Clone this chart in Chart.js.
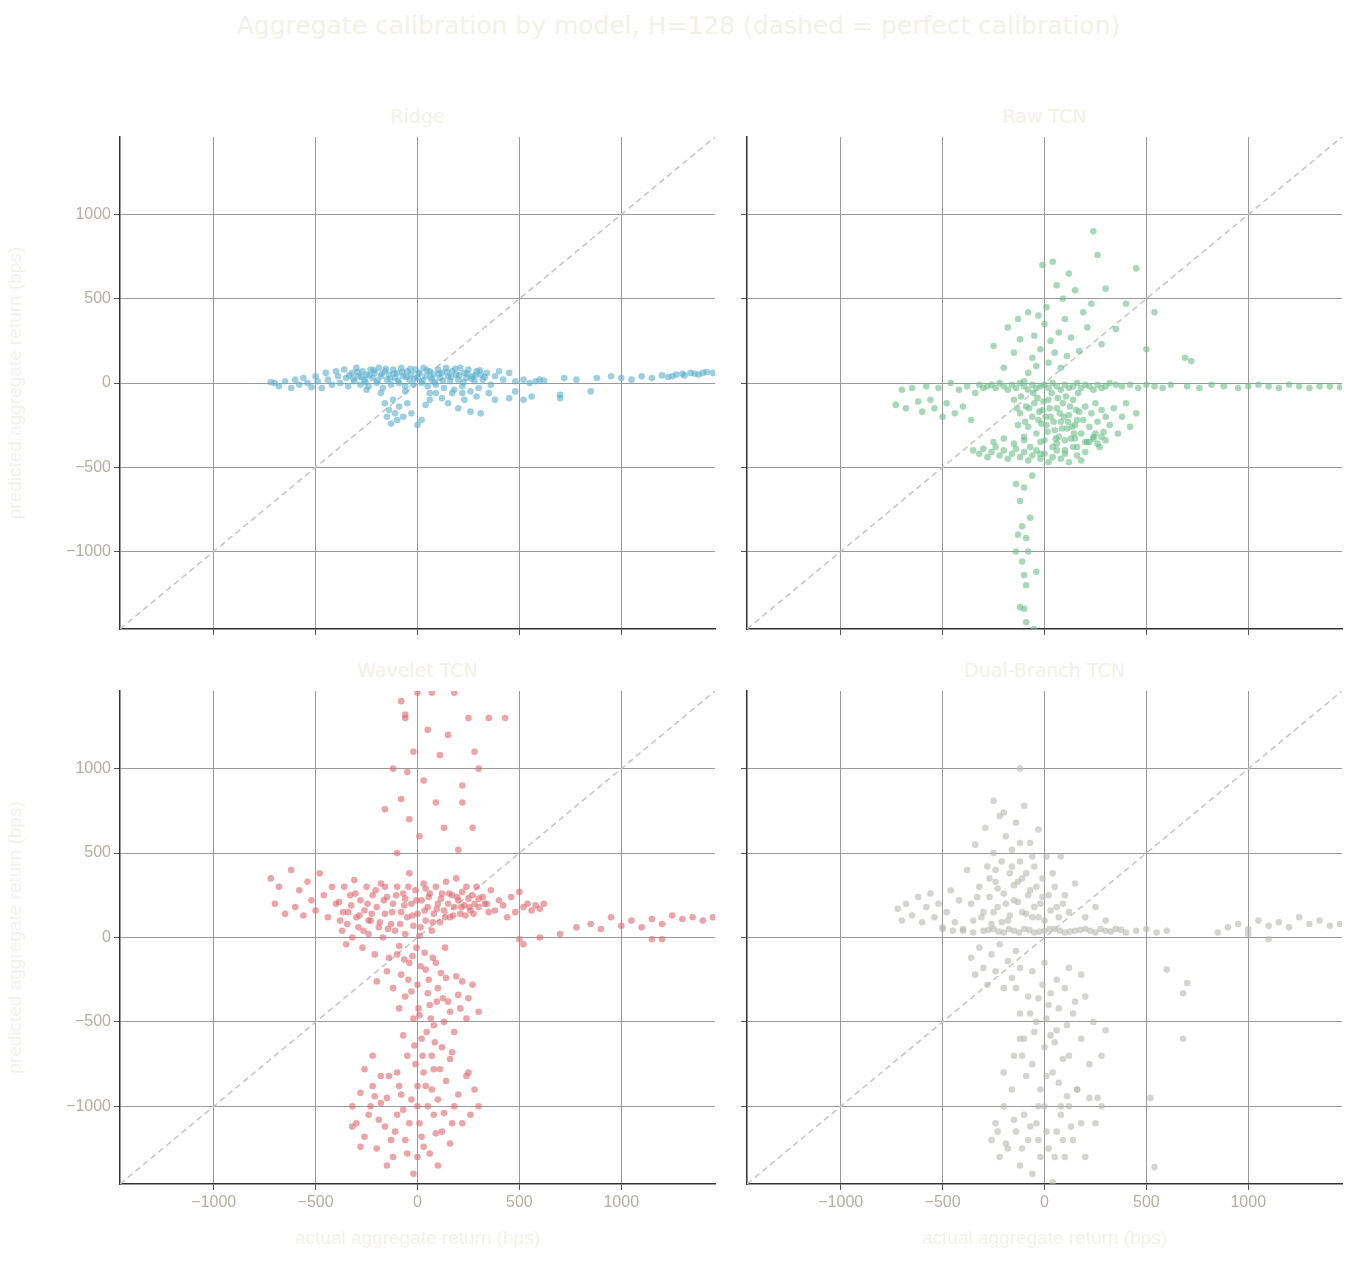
<!DOCTYPE html>
<html>
<head>
<meta charset="utf-8">
<script src="https://cdn.jsdelivr.net/npm/chart.js@4.4.1/dist/chart.umd.min.js"></script>
<style>
body { margin:0; background:#fff; font-family:"DejaVu Sans", sans-serif; }
#wrap { position:relative; width:1357px; height:1262px; }
.box { position:absolute; }
.txt { position:absolute; color:#f2f1ea; text-align:center; white-space:nowrap; }
</style>
</head>
<body>
<div id="wrap">
  <div class="txt" style="left:0;width:1357px;top:11px;font-size:25px">Aggregate calibration by model, H=128 (dashed = perfect calibration)</div>
  <div class="txt" style="left:120px;width:595px;top:105px;font-size:19px">Ridge</div>
  <div class="txt" style="left:747px;width:595px;top:105px;font-size:19px">Raw TCN</div>
  <div class="txt" style="left:120px;width:595px;top:659px;font-size:19px">Wavelet TCN</div>
  <div class="txt" style="left:747px;width:595px;top:659px;font-size:19px">Dual-Branch TCN</div>
  <div class="box" style="left:0;top:120px;width:730px;height:549px"><canvas id="c0"></canvas></div>
  <div class="box" style="left:730px;top:120px;width:627px;height:549px"><canvas id="c1"></canvas></div>
  <div class="box" style="left:0;top:674px;width:730px;height:580px"><canvas id="c2"></canvas></div>
  <div class="box" style="left:730px;top:674px;width:627px;height:580px"><canvas id="c3"></canvas></div>
</div>
<script>
// axis limits and ticks
let axisMin = -1460;
let axisMax = 1460;
let tickValues = [-1000, -500, 0, 500, 1000];
let panelTitles = ['Ridge', 'Raw TCN', 'Wavelet TCN', 'Dual-Branch TCN'];

// points: [actual, predicted]
let ridgePoints = [[-720,5],[-700,0],[-680,-20],[-650,10],[-620,-30],[-600,20],[-580,-10],[-560,30],[-540,0],[-520,-25],[-500,40],[-490,10],[-470,-30],[-450,60],[-440,20],[-420,-10],[-400,70],[-390,40],[-380,0],[-360,80],[-350,30],[-340,-20],[-320,60],[-310,10],[-300,90],[-290,40],[-280,-10],[-270,70],[-260,20],[-250,50],[-240,-20],[-230,80],[-220,30],[-210,60],[-200,0],[-190,90],[-180,40],[-170,-30],[-160,70],[-150,20],[-140,50],[-130,-10],[-120,80],[-110,30],[-100,60],[-90,0],[-80,90],[-70,40],[-60,-20],[-50,70],[-40,20],[-30,50],[-20,-10],[-10,80],[0,30],[10,60],[20,0],[30,90],[40,40],[50,-20],[60,70],[70,20],[80,50],[90,-10],[100,80],[110,30],[120,60],[130,-30],[140,90],[150,40],[160,10],[170,70],[180,-40],[190,50],[200,20],[210,90],[220,-20],[230,60],[240,30],[250,80],[260,-50],[270,40],[280,10],[290,70],[300,-30],[310,50],[320,20],[340,60],[360,-10],[380,40],[400,70],[420,20],[450,60],[480,10],[520,20],[550,0],[580,10],[600,20],[620,15],[700,-70],[720,30],[780,20],[850,-50],[880,30],[950,40],[1000,30],[1050,20],[1100,40],[1150,30],[1200,45],[1250,40],[1300,55],[1340,60],[1380,50],[1420,65],[1450,60],[-160,-120],[-150,-200],[-140,-160],[-130,-240],[-120,-100],[-110,-180],[-100,-220],[-90,-140],[-70,-200],[-50,-120],[-30,-180],[0,-250],[20,-220],[40,-130],[60,-100],[90,-60],[120,-90],[150,-120],[170,-60],[200,-150],[230,-100],[260,-170],[290,-80],[310,-180],[350,-60],[380,-100],[450,-90],[480,-50],[520,-100],[560,-80],[700,-90],[-250,-40],[-180,-60],[-60,-50],[60,-60],[220,-60],
[-335,45],[-315,25],[-295,65],[-275,35],[-255,5],[-235,45],[-215,75],[-195,15],[-175,55],[-155,85],[-135,25],[-115,55],[-95,15],[-75,65],[-55,35],[-35,85],[-15,25],[5,55],[25,15],[45,75],[65,35],[85,5],[105,55],[125,15],[145,65],[165,35],[185,85],[205,45],[225,5],[245,55],[265,25],[285,45],[305,75],[330,35],[1310,45],[1360,55],[1400,60],[1230,35],[1270,50]];

let rawPoints = [[-730,-130],[-700,-40],[-680,-150],[-650,-30],[-620,-110],[-600,-170],[-580,-20],[-560,-100],[-540,-150],[-520,-30],[-500,-200],[-480,-120],[-460,0],[-440,-180],[-420,-40],[-400,-140],[-380,-20],[-360,-220],[-340,-60],[-320,-10],[-300,-30],[-280,-20],[-260,-10],[-240,-30],[-220,0],[-200,-20],[-180,-40],[-160,-10],[-140,-30],[-120,0],[-100,-20],[-80,-40],[-60,-10],[-40,-30],[-20,-20],[0,-10],[20,-30],[40,0],[60,-20],[80,-40],[100,-10],[120,-30],[140,-20],[160,0],[180,-30],[200,-10],[220,-20],[240,-40],[260,-10],[280,-30],[300,-20],[320,0],[350,-10],[380,-20],[420,-10],[460,-30],[500,-10],[540,-20],[580,-30],[620,-10],[700,-20],[760,-30],[820,-10],[880,-20],[950,-30],[1000,-20],[1050,-10],[1100,-20],[1150,-30],[1200,-10],[1250,-20],[1300,-30],[1350,-20],[1400,-20],[1450,-25],
[-150,-100],[-130,-250],[-120,-180],[-100,-320],[-90,-140],[-80,-260],[-70,-380],[-60,-200],[-50,-120],[-40,-300],[-30,-220],[-20,-420],[-10,-160],[0,-340],[10,-250],[20,-100],[30,-200],[40,-380],[50,-280],[60,-150],[70,-320],[80,-230],[90,-120],[100,-400],[110,-270],[120,-190],[130,-330],[140,-100],[150,-250],[160,-380],[170,-170],[180,-300],[190,-220],[200,-140],[210,-350],[220,-260],[230,-180],[240,-320],[250,-120],[260,-230],[270,-380],[280,-160],[290,-290],[300,-200],[320,-250],[340,-150],[360,-300],[380,-200],[400,-120],[420,-260],[450,-180],
[-350,-400],[-320,-420],[-300,-390],[-280,-440],[-260,-410],[-240,-380],[-220,-430],[-200,-400],[-180,-450],[-160,-420],[-140,-390],[-120,-440],[-100,-410],[-80,-460],[-60,-430],[-40,-400],[-20,-450],[0,-420],[20,-470],[40,-440],[60,-400],[80,-450],[100,-420],[120,-470],[140,-380],[160,-430],[180,-460],[200,-410],[220,-350],[240,-330],[260,-360],[280,-320],[300,-340],
[-250,-350],[-200,-330],[-150,-360],[-100,-340],[150,-330],[200,-350],[250,-300],
[-35,-90],[-25,-170],[-15,-240],[-5,-110],[5,-200],[15,-290],[25,-150],[35,-60],[45,-230],[55,-330],[65,-90],[75,-180],[85,-270],[95,-200],[105,-80],[115,-230],[125,-140],[135,-260],[145,-300],[155,-160],[165,-60],[-55,-60],[-75,-150],[-95,-230],[-115,-80],[-135,-150],[-20,-350],[60,-360],[100,-340],[160,-220],
[-100,10],[-80,60],[-60,150],[-50,280],[-40,100],[-30,400],[-20,200],[-10,700],[0,350],[10,450],[20,120],[30,250],[40,720],[50,180],[60,580],[70,300],[80,90],[90,500],[100,380],[110,160],[120,650],[130,270],[150,550],[170,190],[190,420],[210,330],[230,470],[240,900],[260,760],[280,230],[300,560],[350,320],[400,470],[450,680],[500,200],[540,420],[-150,180],[-200,90],[-250,220],[-180,330],[-120,260],[-80,420],[-130,380],
[-140,-600],[-120,-700],[-110,-850],[-100,-620],[-90,-920],[-80,-1000],[-110,-1060],[-130,-900],[-140,-1000],[-100,-1140],[-90,-1200],[-120,-1330],[-100,-1340],[-90,-1420],[-70,-800],[-50,-1460],[-40,-1120],[-60,-550],[690,150],[720,130]];

let waveletPoints = [[-720,350],[-700,200],[-680,300],[-650,140],[-620,400],[-600,180],[-580,280],[-560,130],[-540,330],[-520,220],[-500,160],[-480,380],[-460,250],[-440,120],[-420,300],[-400,200],
[-380,100],[-370,40],[-360,300],[-350,-40],[-340,150],[-330,250],[-320,0],[-310,340],[-300,120],[-290,60],[-280,220],[-270,-60],[-260,160],[-250,300],[-240,20],[-230,100],[-220,250],[-210,-100],[-200,180],[-190,60],[-180,320],[-170,0],[-160,140],[-150,240],[-140,-120],[-130,80],[-120,200],[-110,40],[-100,300],[-90,-50],[-80,150],[-70,260],[-60,20],[-50,120],[-40,380],[-30,200],[-20,70],[-10,280],[0,140],[10,10],[20,220],[30,320],[40,100],[50,180],[60,260],[70,40],[80,140],[90,300],[100,200],[110,90],[120,260],[130,160],[140,330],[150,200],[160,120],[170,250],[180,180],[190,350],[200,220],[210,140],[220,270],[230,190],[240,300],[250,230],[260,160],[270,250],[280,200],[290,300],[300,180],[320,240],[340,200],[360,280],[380,160],[400,220],[420,190],[440,120],[460,240],[480,150],[500,270],[520,180],[540,200],[560,160],[580,190],[600,170],[620,200],[500,-10],[520,-40],[600,0],[700,20],[780,60],[850,80],[900,50],[950,120],[1000,70],[1050,100],[1100,60],[1150,110],[1200,80],[1250,130],[1300,110],[1350,120],[1400,100],[1450,120],[1200,-10],[1150,-10],
[-385,210],[-365,150],[-345,80],[-325,190],[-305,260],[-285,130],[-265,40],[-245,200],[-225,140],[-205,280],[-185,90],[-165,220],[-145,50],[-125,150],[-105,250],[-85,80],[-65,190],[-45,300],[-25,130],[-5,220],[15,60],[35,160],[55,240],[75,90],[95,170],[115,230],[135,120],[155,260],[175,130],[195,240],[215,180],[235,130],[255,180],[275,140],[300,230],[330,200],[350,150],[-240,100],[-160,300],[-60,230],[40,290],
[-100,-100],[-80,-220],[-60,-350],[-40,-150],[-20,-480],[0,-280],[20,-600],[40,-190],[60,-400],[80,-520],[100,-300],[120,-650],[140,-240],[160,-440],[180,-560],[200,-340],[220,-260],[240,-480],[-90,-420],[-70,-580],[-50,-700],[-30,-320],[-10,-750],[10,-460],[30,-800],[50,-330],[70,-700],[90,-150],[110,-780],[130,-500],[150,-380],[170,-680],[190,-230],[210,-420],[250,-360],[270,-280],[300,-440],[-150,-200],[-200,-260],[-120,-300],
[-5,-60],[15,-170],[35,-90],[55,-250],[75,-120],[95,-380],[115,-210],[135,-60],[-25,-110],[-45,-250],[-65,-130],[5,-420],[45,-560],[85,-620],[125,-360],[65,-480],[-15,-640],[25,-700],
[-320,-1000],[-300,-1100],[-280,-920],[-260,-1180],[-240,-1050],[-220,-880],[-200,-1250],[-180,-980],[-160,-1120],[-140,-820],[-120,-1300],[-100,-1050],[-80,-930],[-60,-1200],[-40,-1100],[-20,-1400],[0,-1000],[20,-1180],[40,-880],[60,-1280],[80,-1050],[100,-960],[120,-1150],[140,-850],[160,-1220],[180,-1000],[200,-930],[220,-1100],[240,-820],[260,-1050],[280,-900],[300,-1000],[-260,-780],[-220,-700],[-180,-820],[-100,-800],[0,-880],[80,-780],[160,-720],[250,-800],[-320,-1120],[-280,-1240],[-150,-1350],[0,-1300],[100,-1350],
[-230,-1000],[-190,-1080],[-150,-950],[-110,-1150],[-70,-1020],[-30,-960],[10,-1100],[50,-1000],[90,-1160],[130,-1040],[170,-1100],[-210,-940],[-130,-1200],[-50,-1280],[30,-1240],[-90,-880],[70,-900],
[-100,500],[-80,820],[-60,1300],[-50,980],[-40,700],[-20,1100],[0,1450],[10,600],[30,930],[50,1230],[70,1450],[90,800],[110,1080],[130,650],[150,1200],[180,1450],[200,520],[220,900],[250,1300],[280,1100],[300,1000],[350,1300],[430,1300],[-80,1400],[-60,1320],[-160,760],[-120,1000],[220,800],[270,650]];

let dualPoints = [[-720,170],[-700,100],[-680,200],[-650,130],[-620,240],[-600,90],[-580,180],[-560,260],[-540,120],[-520,200],[-500,60],[-480,150],[-460,280],[-440,90],[-420,220],[-400,40],
[-380,400],[-360,200],[-350,100],[-340,550],[-320,300],[-300,150],[-290,650],[-280,420],[-270,240],[-260,80],[-250,500],[-240,330],[-230,180],[-220,720],[-210,450],[-200,260],[-190,600],[-180,100],[-170,380],[-160,520],[-150,220],[-140,680],[-130,330],[-120,450],[-110,150],[-100,780],[-90,380],[-80,250],[-70,560],[-60,120],[-50,420],[-40,300],[-30,640],[-20,200],[-10,350],[0,100],[10,480],[20,250],[40,380],[60,180],[80,480],[100,250],[120,150],[150,320],[200,120],[250,180],[300,100],[-120,1000],[-250,810],[-200,740],
[-330,240],[-310,120],[-270,350],[-250,150],[-230,290],[-210,90],[-190,200],[-170,130],[-150,310],[-130,210],[-110,350],[-90,140],[-70,280],[-50,180],[-30,120],[-10,240],[30,160],[50,300],[70,120],[90,200],[-160,420],[-120,560],[-60,480],[-240,400],
[-450,40],[-400,50],[-350,30],[-300,40],[-250,50],[-200,30],[-150,40],[-100,50],[-50,30],[0,40],[50,50],[100,30],[150,40],[200,50],[250,30],[300,40],[350,50],[400,30],[450,40],[500,50],[550,30],[600,40],[-500,50],[850,30],[900,60],[950,80],[1000,50],[1050,100],[1100,70],[1150,90],[1200,60],[1250,120],[1300,80],[1350,100],[1400,70],[1450,80],[1100,-10],[1000,20],[600,-190],[680,-330],[700,-270],[680,-600],
[-275,45],[-225,35],[-175,50],[-125,30],[-75,45],[-25,35],[25,50],[75,40],[125,35],[175,45],[225,40],[275,50],[325,35],[375,45],
[-360,-120],[-340,-220],[-320,-60],[-300,-180],[-280,-280],[-260,-100],[-240,-200],[-220,-40],[-200,-300],[-180,-140],[-160,-240],[-140,-80],[-120,-180],
[-140,-300],[-120,-450],[-100,-600],[-80,-350],[-60,-750],[-40,-500],[-20,-900],[0,-650],[20,-400],[40,-800],[60,-550],[80,-1000],[100,-300],[120,-700],[140,-450],[160,-900],[180,-600],[200,-350],[220,-750],[240,-500],[260,-950],[280,-700],[300,-550],[-60,-200],[0,-150],[60,-250],[120,-180],[180,-220],
[-10,-280],[10,-480],[30,-330],[50,-620],[70,-420],[90,-720],[110,-520],[-30,-360],[-50,-560],[-70,-450],[-90,-820],[-110,-700],[30,-580],[70,-860],[110,-940],[150,-380],[-30,-1000],[10,-820],
[-260,-1200],[-240,-1100],[-220,-1300],[-200,-1000],[-180,-1250],[-160,-900],[-140,-1150],[-120,-1350],[-100,-1050],[-80,-1200],[-60,-1400],[-40,-1100],[-20,-1300],[0,-1000],[20,-1250],[40,-1450],[60,-1150],[80,-1050],[100,-1300],[120,-1000],[140,-1200],[160,-900],[180,-1100],[200,-1300],[220,-950],[250,-1100],[280,-1000],[-200,-800],[-150,-700],[-120,-600],[520,-950],[540,-1360],
[-230,-1150],[-190,-1220],[-150,-1080],[-110,-1250],[-70,-1120],[-30,-1200],[10,-1150],[50,-1300],[90,-1200],[130,-1120]];

let colors = ['rgba(90,175,207,0.6)', 'rgba(108,192,139,0.6)', 'rgba(224,104,112,0.6)', 'rgba(184,184,176,0.6)'];
let allPoints = [ridgePoints, rawPoints, waveletPoints, dualPoints];

let tickColor = '#b4afa3';
let gridColor = '#9a9a9a';

function toMinus(v){
    return String(v).replace('-', '\u2212');
}

function drawPanel(i){
    let isLeft = i % 2 === 0;
    let isBottom = i >= 2;
    let pts = allPoints[i].map(p => ({x: p[0], y: p[1]}));

    new Chart(document.getElementById('c' + i), {
        type: 'scatter',
        data: {
            datasets: [{
                data: pts,
                backgroundColor: colors[i],
                borderWidth: 0,
                pointRadius: 3.3
            },{
                type: 'line',
                data: [{x: axisMin, y: axisMin}, {x: axisMax, y: axisMax}],
                borderColor: '#c4c4c0',
                borderWidth: 1.5,
                borderDash: [6, 4],
                pointRadius: 0
            }]
        },
        options: {
            animation: false,
            responsive: true,
            maintainAspectRatio: false,
            layout: { padding: { top: 17, right: 15 } },
            plugins: { legend: { display: false }, tooltip: { enabled: false } },
            scales: {
                x: {
                    type: 'linear', min: axisMin, max: axisMax,
                    afterBuildTicks: s => { s.ticks = tickValues.map(v => ({value: v})); },
                    afterFit: s => { s.height = isBottom ? 70 : 40; },
                    grid: { color: gridColor, tickLength: 6, tickColor: '#555' },
                    border: { display: true, color: '#333', width: 1.5 },
                    ticks: {
                        display: isBottom, color: tickColor, font: { size: 16 },
                        maxRotation: 0, callback: v => toMinus(v)
                    },
                    title: {
                        display: isBottom, text: 'actual aggregate return (bps)',
                        color: '#f2f1ea', font: { size: 19 }, padding: { top: 2 }
                    }
                },
                y: {
                    type: 'linear', min: axisMin, max: axisMax,
                    afterBuildTicks: s => { s.ticks = tickValues.map(v => ({value: v})); },
                    afterFit: s => { s.width = isLeft ? 120 : 17; },
                    grid: { color: gridColor, tickLength: 6, tickColor: '#555' },
                    border: { display: true, color: '#333', width: 1.5 },
                    ticks: {
                        display: isLeft, color: tickColor, font: { size: 16 },
                        callback: v => toMinus(v)
                    },
                    title: {
                        display: isLeft, text: 'predicted aggregate return (bps)',
                        color: '#f2f1ea', font: { size: 19 }
                    }
                }
            }
        }
    });
}

for (let i = 0; i < 4; i++) drawPanel(i);
</script>
</body>
</html>
